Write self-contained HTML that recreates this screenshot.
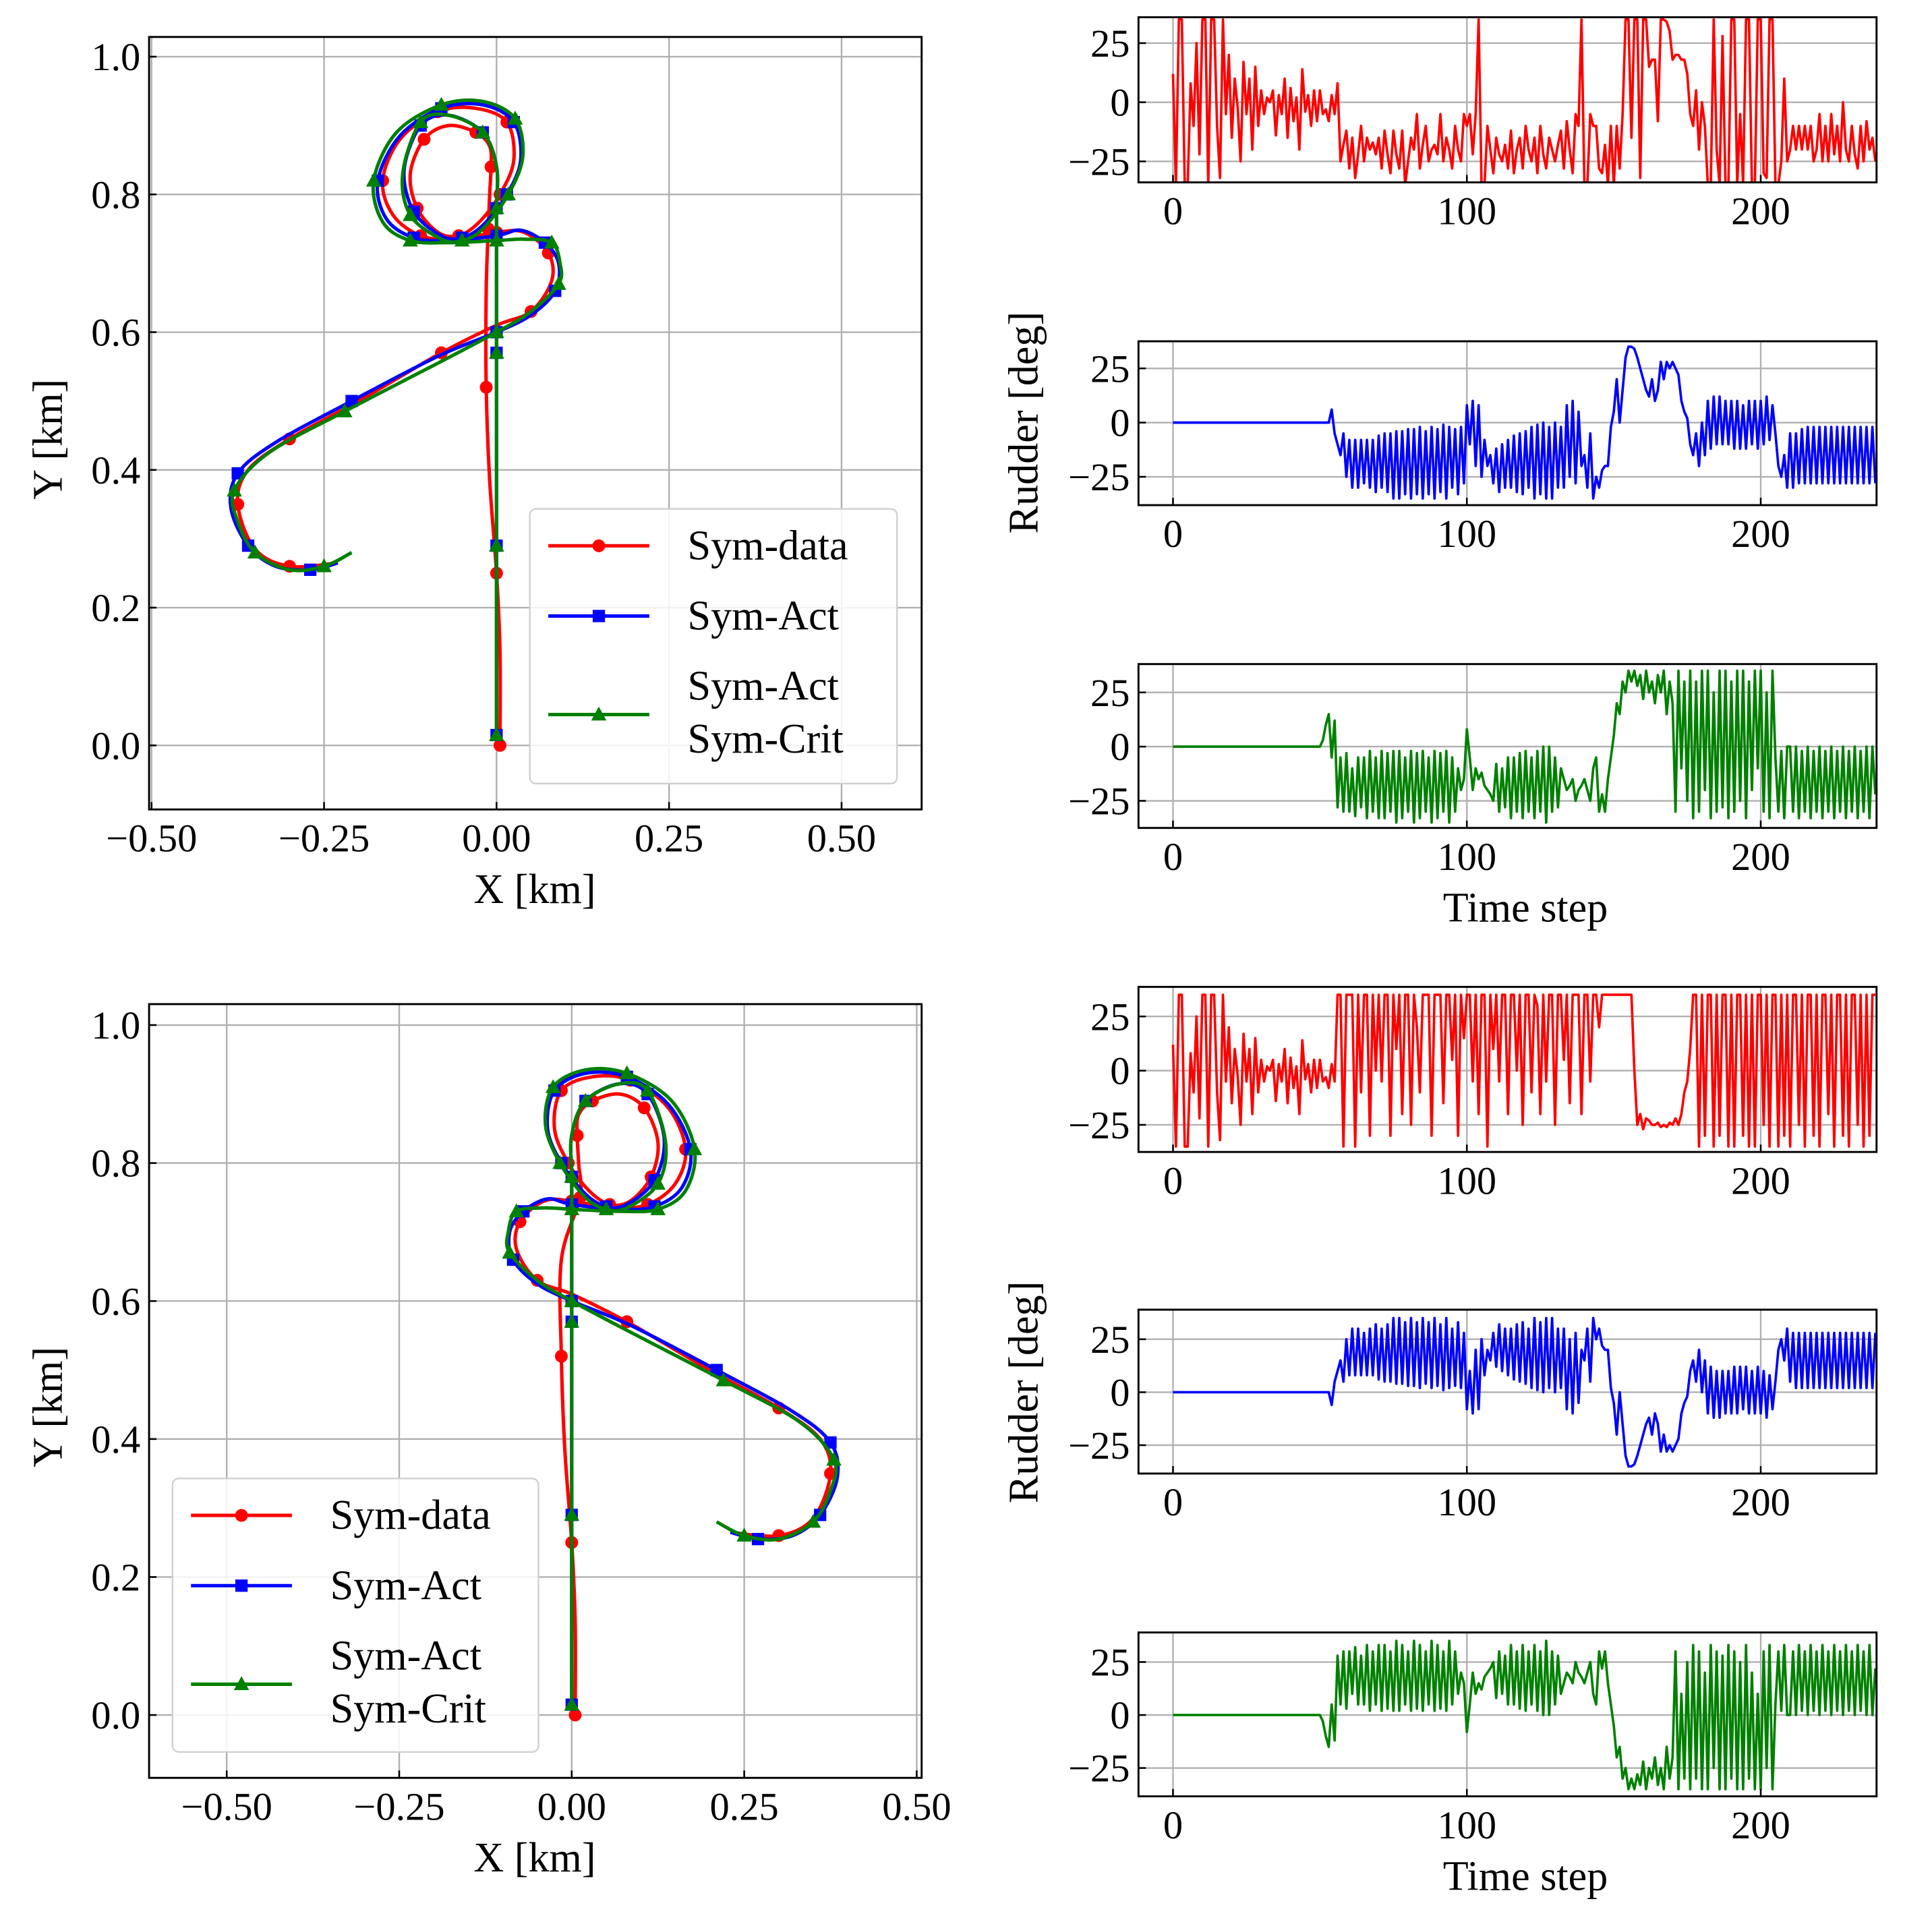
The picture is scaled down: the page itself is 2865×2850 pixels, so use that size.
<!DOCTYPE html>
<html><head><meta charset="utf-8"><style>
html,body{margin:0;padding:0;background:#fff;overflow:hidden;}
svg{display:block;font-family:"Liberation Serif","DejaVu Serif",serif;}
</style></head><body>
<svg id="fig" xmlns="http://www.w3.org/2000/svg" width="2865" height="2850" viewBox="0 0 1568 1560" preserveAspectRatio="none"></svg>
<script>
// ---- trajectory data (km) ----
const topDataX=[0.005,0.005,0.0,-0.01,-0.015,-0.015,-0.012,-0.01,-0.008,-0.01,-0.03,-0.07,-0.105,-0.125,-0.115,-0.085,-0.055,-0.025,0.005,0.025,0.015,-0.03,-0.085,-0.14,-0.165,-0.15,-0.11,-0.06,0.0,0.04,0.075,0.08,0.05,0.0,-0.08,-0.2,-0.3,-0.36,-0.375,-0.35,-0.3,-0.23];
const topDataY=[0.0,0.135,0.25,0.385,0.52,0.66,0.75,0.80,0.84,0.87,0.89,0.9,0.88,0.83,0.78,0.745,0.74,0.76,0.80,0.85,0.905,0.925,0.92,0.88,0.82,0.77,0.74,0.735,0.745,0.745,0.715,0.675,0.63,0.61,0.57,0.50,0.445,0.40,0.35,0.285,0.26,0.265];
const topActX=[0,0,0,0,0,0,0,0.0,-0.02,-0.07,-0.11,-0.134,-0.12,-0.08,-0.05,-0.02,0.015,0.035,0.025,-0.02,-0.08,-0.14,-0.172,-0.16,-0.12,-0.07,0.0,0.035,0.07,0.09,0.085,0.05,0.0,-0.085,-0.21,-0.32,-0.375,-0.385,-0.36,-0.32,-0.27,-0.23];
const topActY=[0.015,0.15,0.29,0.43,0.57,0.71,0.78,0.84,0.89,0.915,0.9,0.835,0.775,0.74,0.737,0.755,0.8,0.85,0.905,0.93,0.925,0.885,0.82,0.765,0.737,0.733,0.74,0.748,0.73,0.70,0.66,0.625,0.60,0.565,0.50,0.44,0.395,0.345,0.29,0.26,0.255,0.265];
const topCritX=[0,0,0,0,0,0,0,0.0,-0.02,-0.07,-0.11,-0.136,-0.125,-0.08,-0.05,-0.02,0.017,0.038,0.027,-0.02,-0.08,-0.145,-0.178,-0.165,-0.125,-0.07,0.0,0.04,0.08,0.092,0.09,0.05,0.0,-0.085,-0.22,-0.33,-0.38,-0.375,-0.35,-0.3,-0.25,-0.21];
const topCritY=[0.015,0.15,0.29,0.43,0.57,0.71,0.78,0.84,0.89,0.915,0.905,0.83,0.77,0.735,0.733,0.75,0.8,0.855,0.91,0.935,0.93,0.89,0.82,0.76,0.733,0.73,0.733,0.735,0.73,0.70,0.67,0.63,0.60,0.555,0.485,0.425,0.37,0.325,0.28,0.255,0.26,0.28];
const botDataX=[0.005,0.005,0.0,-0.01,-0.015,-0.015,0.012,0.01,0.008,0.01,0.03,0.07,0.105,0.125,0.115,0.085,0.055,0.025,-0.005,-0.025,-0.015,0.03,0.085,0.14,0.165,0.15,0.11,0.06,0.0,-0.04,-0.075,-0.08,-0.05,0.0,0.08,0.2,0.3,0.36,0.375,0.35,0.3,0.23];
const botDataY=[0.0,0.135,0.25,0.385,0.52,0.66,0.75,0.80,0.84,0.87,0.89,0.9,0.88,0.83,0.78,0.745,0.74,0.76,0.80,0.85,0.905,0.925,0.92,0.88,0.82,0.77,0.74,0.735,0.745,0.745,0.715,0.675,0.63,0.61,0.57,0.50,0.445,0.40,0.35,0.285,0.26,0.265];
const botActX=[0,0,0,0,0,0,0,0.0,0.02,0.07,0.11,0.134,0.12,0.08,0.05,0.02,-0.015,-0.035,-0.025,0.02,0.08,0.14,0.172,0.16,0.12,0.07,0.0,-0.035,-0.07,-0.09,-0.085,-0.05,0.0,0.085,0.21,0.32,0.375,0.385,0.36,0.32,0.27,0.23];
const botActY=[0.015,0.15,0.29,0.43,0.57,0.71,0.78,0.84,0.89,0.915,0.9,0.835,0.775,0.74,0.737,0.755,0.8,0.85,0.905,0.93,0.925,0.885,0.82,0.765,0.737,0.733,0.74,0.748,0.73,0.70,0.66,0.625,0.60,0.565,0.50,0.44,0.395,0.345,0.29,0.26,0.255,0.265];
const botCritX=[0,0,0,0,0,0,0,0.0,0.02,0.07,0.11,0.136,0.125,0.08,0.05,0.02,-0.017,-0.038,-0.027,0.02,0.08,0.145,0.178,0.165,0.125,0.07,0.0,-0.04,-0.08,-0.092,-0.09,-0.05,0.0,0.085,0.22,0.33,0.38,0.375,0.35,0.3,0.25,0.21];
const botCritY=[0.015,0.15,0.29,0.43,0.57,0.71,0.78,0.84,0.89,0.915,0.905,0.83,0.77,0.735,0.733,0.75,0.8,0.855,0.91,0.935,0.93,0.89,0.82,0.76,0.733,0.73,0.733,0.735,0.73,0.70,0.67,0.63,0.60,0.555,0.485,0.425,0.37,0.325,0.28,0.255,0.26,0.28];
const xTicks=[-0.5,-0.25,0,0.25,0.5];
const xTickLabels=["\u22120.50","\u22120.25","0.00","0.25","0.50"];
const yTicks=[0,0.2,0.4,0.6,0.8,1.0];
const yTickLabels=["0.0","0.2","0.4","0.6","0.8","1.0"];
// ---- rudder data (deg) ----
const rud1=[12,-35,35,35,-35,-35,8,-10,25,-22,35,35,-35,35,35,-10,-32,35,-5,20,-15,10,-2,-25,17,-5,10,-20,15,-10,5,-5,2,0,5,-14,3,-5,10,-15,6,-8,2,-20,14,-4,3,-10,5,-8,5,-5,-3,-8,3,-5,8,-25,-18,-12,-28,-15,-32,-22,-10,-25,-15,-20,-17,-22,-15,-28,-12,-22,-30,-12,-22,-28,-12,-35,-25,-15,-20,-5,-28,-18,-10,-25,-20,-18,-22,-5,-25,-15,-20,-28,-10,-20,-25,-5,-10,-5,-22,-5,35,-35,-35,-10,-20,-30,-15,-22,-25,-18,-28,-12,-30,-20,-15,-28,-10,-20,-25,-15,-30,-10,-22,-28,-15,-20,-25,-18,-12,-28,-8,-20,-30,-5,-10,35,-35,-35,-5,-10,-10,-28,-30,-18,-35,-10,-35,-10,-28,-5,35,35,-15,35,35,-32,35,35,15,18,18,-8,35,35,34,30,18,20,20,18,18,12,-5,-10,5,-20,0,-10,-35,-35,35,-20,-35,28,-35,-35,35,35,-35,-5,-35,35,35,-35,-35,35,35,-30,-32,35,35,-35,-35,-25,10,-25,-20,-10,-20,-10,-20,-10,-20,-10,-25,-20,-5,-25,-10,-25,-5,-22,-10,-25,0,-20,-25,-10,-22,-28,-10,-25,-8,-20,-15,-25];
const rud2=[0,0,0,0,0,0,0,0,0,0,0,0,0,0,0,0,0,0,0,0,0,0,0,0,0,0,0,0,0,0,0,0,0,0,0,0,0,0,0,0,0,0,0,0,0,0,0,0,0,0,0,0,0,0,6,-5,-10,-15,-5,-25,-8,-30,-8,-30,-8,-28,-8,-30,-8,-32,-6,-30,-5,-32,-5,-35,-4,-35,-4,-33,-3,-35,-3,-33,-2,-35,-4,-33,-2,-35,-3,-32,-1,-35,-2,-30,-3,-33,-2,-28,8,-10,10,-20,8,-25,-8,-20,-15,-28,-12,-32,-10,-30,-8,-30,-6,-32,-5,-33,-4,-30,-2,-35,-1,-33,0,-35,-2,-35,0,-30,-2,-30,8,-25,10,-28,5,-20,-15,-30,-5,-35,-25,-30,-22,-20,-20,-2,5,20,0,15,30,35,35,34,30,25,20,15,12,20,10,15,28,20,28,25,28,25,22,10,5,2,-10,-15,-5,-20,0,-15,10,-12,12,-10,12,-10,10,-10,10,-12,10,-12,8,-12,10,-10,10,-12,10,-10,12,-8,8,-5,-20,-25,-15,-30,-5,-30,-5,-28,-3,-28,-2,-28,-2,-28,-2,-28,-2,-28,-2,-28,-2,-28,-2,-28,-2,-28,-2,-28,-2,-28,-2,-28,-2,-28];
const rud3=[0,0,0,0,0,0,0,0,0,0,0,0,0,0,0,0,0,0,0,0,0,0,0,0,0,0,0,0,0,0,0,0,0,0,0,0,0,0,0,0,0,0,0,0,0,0,0,0,0,0,0,3,10,15,-5,12,-28,-5,-30,-3,-30,-10,-32,-5,-28,-5,-33,-2,-30,-5,-33,-2,-33,-3,-30,-2,-35,-2,-33,-5,-30,-2,-35,-3,-33,-2,-30,-5,-35,-2,-33,-3,-30,-2,-35,-5,-30,-10,-20,-15,8,-5,-20,-10,-15,-12,-18,-20,-22,-25,-8,-30,-10,-28,-5,-33,-5,-30,-3,-33,-2,-30,-5,-33,-2,-30,0,-35,0,-30,-5,-28,-10,-15,-20,-18,-15,-25,-20,-18,-15,-20,-25,-10,-5,-30,-22,-30,-15,-5,5,20,15,30,25,35,30,35,28,33,22,35,25,30,20,33,25,35,15,30,20,-30,35,-10,30,-25,35,-33,30,-30,35,-20,35,-33,25,-30,35,-28,35,-33,30,-30,35,-25,35,-33,30,-20,35,-10,35,-30,25,-33,35,-5,-30,-2,-33,0,0,-30,0,-33,-2,-30,0,-33,-2,-30,0,-33,-2,-30,0,-33,-2,-30,0,-33,-2,-30,0,-33,-2,-30,0,-33,0,-22];
const rud4=[12,-35,35,35,-35,-35,8,-10,25,-22,35,35,-35,35,35,-10,-32,35,-5,20,-15,10,-2,-25,17,-5,10,-20,15,-10,5,-5,2,0,5,-14,3,-5,10,-15,6,-8,2,-20,14,-4,3,-10,5,-8,5,-5,-3,-8,3,-5,35,35,-35,35,35,35,-35,35,-10,35,35,-30,35,0,35,-5,35,35,-30,35,10,35,-20,35,35,-25,35,20,-10,35,35,35,-30,35,35,35,-15,35,35,5,35,-30,35,15,35,35,-5,35,-20,35,35,-35,35,10,35,-5,35,35,-20,35,35,0,35,-25,35,35,-10,35,30,-20,35,-5,35,35,-25,35,35,5,35,-15,35,35,35,-20,35,35,-5,35,35,20,35,35,35,35,35,35,35,35,35,35,35,0,-25,-20,-27,-22,-23,-25,-25,-24,-26,-25,-26,-24,-25,-22,-25,-20,-10,-5,10,35,35,-35,35,-30,35,35,-35,35,-30,35,35,-35,35,-35,35,35,-30,35,-35,35,-35,35,35,-25,35,-35,35,35,-35,35,-30,35,-35,35,35,-25,35,-35,35,35,-30,35,-35,35,35,-20,35,-35,35,35,-30,35,-35,35,35,-25,35,-35,35,-30,35,35];
const rud5=[0,0,0,0,0,0,0,0,0,0,0,0,0,0,0,0,0,0,0,0,0,0,0,0,0,0,0,0,0,0,0,0,0,0,0,0,0,0,0,0,0,0,0,0,0,0,0,0,0,0,0,0,0,0,-6,5,10,15,5,25,8,30,8,30,8,28,8,30,8,32,6,30,5,32,5,35,4,35,4,33,3,35,3,33,2,35,4,33,2,35,3,32,1,35,2,30,3,33,2,28,-8,10,-10,20,-8,25,8,20,15,28,12,32,10,30,8,30,6,32,5,33,4,30,2,35,1,33,0,35,2,35,0,30,2,30,-8,25,-10,28,-5,20,15,30,5,35,25,30,22,20,20,2,-5,-20,0,-15,-30,-35,-35,-34,-30,-25,-20,-15,-12,-20,-10,-15,-28,-20,-28,-25,-28,-25,-22,-10,-5,-2,10,15,5,20,0,15,-10,12,-12,10,-12,10,-10,10,-10,12,-10,12,-8,12,-10,10,-10,12,-10,10,-12,8,-8,5,20,25,15,30,5,28,2,28,2,28,2,28,2,28,2,28,2,28,2,28,2,28,2,28,2,28,2,28,2,28,2,28,2,28];
const rud6=[0,0,0,0,0,0,0,0,0,0,0,0,0,0,0,0,0,0,0,0,0,0,0,0,0,0,0,0,0,0,0,0,0,0,0,0,0,0,0,0,0,0,0,0,0,0,0,0,0,0,0,-3,-10,-15,5,-12,28,5,30,3,30,10,32,5,28,5,33,2,30,5,33,2,33,3,30,2,35,2,33,5,30,2,35,3,33,2,30,5,35,2,33,3,30,2,35,5,30,10,20,15,-8,5,20,10,15,12,18,20,22,25,8,30,10,28,5,33,5,30,3,33,2,30,5,33,2,30,0,35,0,30,5,28,10,15,20,18,15,25,20,18,15,20,25,10,5,30,22,30,15,5,-5,-20,-15,-30,-25,-35,-30,-35,-28,-33,-22,-35,-25,-30,-20,-33,-25,-35,-15,-30,-20,30,-35,10,-30,25,-35,33,-30,30,-35,20,-35,33,-25,30,-35,28,-35,33,-30,30,-35,25,-35,33,-30,20,-35,10,-35,30,-25,33,-35,5,30,2,33,0,0,30,0,33,2,30,0,33,2,30,0,33,2,30,0,33,2,30,0,33,2,30,0,33,2,30,0,33,0,22];
const tTicks=[0,100,200];
const rTicks=[-25,0,25];
const rTickLabels=["\u221225","0","25"];

const NS="http://www.w3.org/2000/svg";
const svg=document.getElementById('fig');
const defs=document.createElementNS(NS,'defs');svg.appendChild(defs);
function mk(tag,attrs,parent){const e=document.createElementNS(NS,tag);for(const k in attrs)e.setAttribute(k,attrs[k]);(parent||svg).appendChild(e);return e;}
function txt(x,y,s,size,anchor,parent){const t=mk('text',{x:x,y:y,'font-size':size,'text-anchor':anchor||'middle',fill:'#000'},parent);t.textContent=s;return t;}
function smooth(pts){let d='M'+pts[0][0].toFixed(2)+','+pts[0][1].toFixed(2);for(let i=0;i<pts.length-1;i++){const p0=pts[Math.max(0,i-1)],p1=pts[i],p2=pts[i+1],p3=pts[Math.min(pts.length-1,i+2)];const c1=[p1[0]+(p2[0]-p0[0])/6,p1[1]+(p2[1]-p0[1])/6],c2=[p2[0]-(p3[0]-p1[0])/6,p2[1]-(p3[1]-p1[1])/6];d+='C'+c1[0].toFixed(2)+','+c1[1].toFixed(2)+' '+c2[0].toFixed(2)+','+c2[1].toFixed(2)+' '+p2[0].toFixed(2)+','+p2[1].toFixed(2);}return d;}
function marker(g,type,x,y,color){
  if(type==='o'){const m=mk('circle',{cx:x,cy:y,r:5.2,fill:color},g);}
  else if(type==='s'){const m=mk('rect',{x:x-5,y:y-5,width:10,height:10,fill:color},g);}
  else{const m=mk('polygon',{points:(x)+','+(y-6.5)+' '+(x-6.2)+','+(y+4.8)+' '+(x+6.2)+','+(y+4.8),fill:color},g);}
}
let clipN=0;
function clipRect(x,y,w,h){const id='clip'+(clipN++);const c=mk('clipPath',{id:id},defs);mk('rect',{x:x,y:y,width:w,height:h},c);return 'url(#'+id+')';}

function trajPanel(name,box,x0px,xScale,series,legendBox){
  const g=mk('g',{});
  
  
  const sx=v=>x0px+v*xScale, sy=v=>box.zeroY - v*box.yScale;
  xTicks.forEach(v=>{const l=mk('line',{x1:sx(v),x2:sx(v),y1:box.y0,y2:box.y1,stroke:'#b0b0b0','stroke-width':1.3},g);});
  yTicks.forEach(v=>{const l=mk('line',{x1:box.x0,x2:box.x1,y1:sy(v),y2:sy(v),stroke:'#b0b0b0','stroke-width':1.3},g);});
  series.forEach(s=>{
    const pts=s.x.map((v,i)=>[sx(v),sy(s.y[i])]);
    const p=mk('path',{d:smooth(pts),fill:'none',stroke:s.color,'stroke-width':2.8},g);
    
    
    pts.forEach((pt,i)=>{if(i%2===0)marker(g,s.m,pt[0],pt[1],s.color);});
  });
  const fr=mk('rect',{x:box.x0,y:box.y0,width:box.x1-box.x0,height:box.y1-box.y0,fill:'none',stroke:'#000','stroke-width':1.6},g);
  
  xTicks.forEach((v,i)=>{mk('line',{x1:sx(v),x2:sx(v),y1:box.y1,y2:box.y1-6,stroke:'#000','stroke-width':1.4},g);const t=txt(sx(v),box.y1+34,xTickLabels[i],32,'middle',g);});
  yTicks.forEach((v,i)=>{mk('line',{x1:box.x0,x2:box.x0+6,y1:sy(v),y2:sy(v),stroke:'#000','stroke-width':1.4},g);const t=txt(box.x0-7,sy(v)+11,yTickLabels[i],32,'end',g);});
  const xl=txt(434,box.y1+76,'X [km]',34,'middle',g);
  const yl=txt(0,0,'Y [km]',34,'middle',g);yl.setAttribute('transform','translate(50,'+((box.y0+box.y1)/2+13)+') rotate(-90)');
  const L=legendBox;
  const lg=mk('g',{},g);
  mk('rect',{x:L.x,y:L.y,width:L.w,height:L.h,rx:5,fill:'#fff','fill-opacity':0.85,stroke:'#d0d0d0','stroke-width':1.3},lg);
  const rows=[30,87,167];
  series.forEach((s,i)=>{
    const e=mk('g',{},lg);
    const yy=L.y+rows[i];
    mk('line',{x1:L.x+15,x2:L.x+97,y1:yy,y2:yy,stroke:s.color,'stroke-width':2.8},e);
    marker(e,s.m,L.x+56,yy,s.color);
    if(i===0){txt(L.x+128,yy+11,'Sym-data',34,'start',e);}
    else if(i===1){txt(L.x+128,yy+11,'Sym-Act',34,'start',e);}
    else{txt(L.x+128,yy-12,'Sym-Act',34,'start',e);txt(L.x+128,yy+31,'Sym-Crit',34,'start',e);}
  });
}

trajPanel('trajectory-plot-top',{x0:121,x1:748,y0:30,y1:657,zeroY:605,yScale:559},403,560,[
 {name:'sym-data',x:topDataX,y:topDataY,color:'#ff0000',m:'o'},
 {name:'sym-act',x:topActX,y:topActY,color:'#0000ff',m:'s'},
 {name:'sym-crit',x:topCritX,y:topCritY,color:'#008000',m:'t'}],{x:430,y:413,w:298,h:223});
trajPanel('trajectory-plot-bottom',{x0:121,x1:748,y0:815,y1:1443,zeroY:1392,yScale:560},464,560,[
 {name:'sym-data',x:botDataX,y:botDataY,color:'#ff0000',m:'o'},
 {name:'sym-act',x:botActX,y:botActY,color:'#0000ff',m:'s'},
 {name:'sym-crit',x:botCritX,y:botCritY,color:'#008000',m:'t'}],{x:140,y:1200,w:297,h:222});

function rudderPanel(name,data,color,y0,y1,zeroY,pxPer25,showTitle){
  const g=mk('g',{});
  
  
  const x0=924,x1=1523;
  const sx=t=>952+t*2.385, sy=v=>zeroY-v*pxPer25/25;
  tTicks.forEach(v=>{const l=mk('line',{x1:sx(v),x2:sx(v),y1:y0,y2:y1,stroke:'#b0b0b0','stroke-width':1.3},g);});
  rTicks.forEach(v=>{const l=mk('line',{x1:x0,x2:x1,y1:sy(v),y2:sy(v),stroke:'#b0b0b0','stroke-width':1.3},g);});
  let d='';data.forEach((v,i)=>{d+=(i?'L':'M')+sx(i).toFixed(2)+','+sy(v).toFixed(2);});
  const p=mk('path',{d:d,fill:'none',stroke:color,'stroke-width':2,'stroke-linejoin':'round','clip-path':clipRect(x0,y0,x1-x0,y1-y0)},g);
  
  const fr=mk('rect',{x:x0,y:y0,width:x1-x0,height:y1-y0,fill:'none',stroke:'#000','stroke-width':1.6},g);
  
  tTicks.forEach(v=>{mk('line',{x1:sx(v),x2:sx(v),y1:y1,y2:y1-6,stroke:'#000','stroke-width':1.4},g);const t=txt(sx(v),y1+34,String(v),32,'middle',g);});
  rTicks.forEach((v,i)=>{mk('line',{x1:x0,x2:x0+6,y1:sy(v),y2:sy(v),stroke:'#000','stroke-width':1.4},g);const t=txt(x0-7,sy(v)+11,rTickLabels[i],32,'end',g);});
  if(showTitle){const t=txt(1238,y1+76,'Time step',34,'middle',g);}
}
rudderPanel('rudder-plot-1',rud1,'#ff0000',14,148,83,48,false);
rudderPanel('rudder-plot-2',rud2,'#0000ff',277,410,343,44,false);
rudderPanel('rudder-plot-3',rud3,'#008000',539,672,606,44,true);
rudderPanel('rudder-plot-4',rud4,'#ff0000',801,935,869,44,false);
rudderPanel('rudder-plot-5',rud5,'#0000ff',1063,1196,1130,43,false);
rudderPanel('rudder-plot-6',rud6,'#008000',1325,1458,1392,43,true);
[343,1130].forEach(y=>{const t=txt(0,0,'Rudder [deg]',34,'middle');t.setAttribute('transform','translate(842,'+y+') rotate(-90)');});
</script>
</body></html>
